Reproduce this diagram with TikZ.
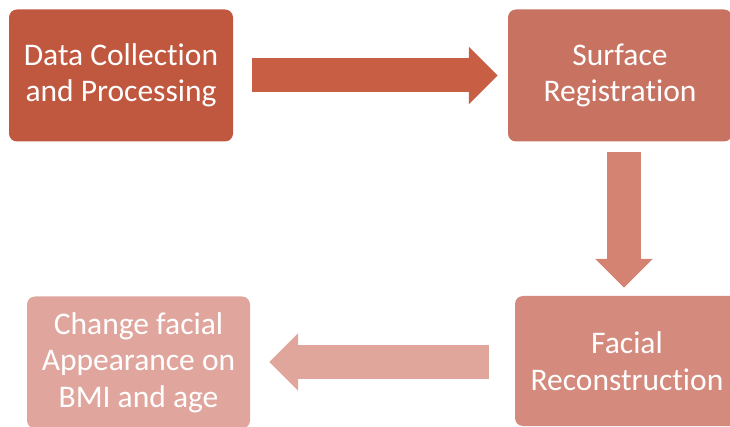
\documentclass[tikz,border=0pt]{standalone}
\usepackage{fontspec}
\setmainfont{Carlito}[Ligatures=NoCommon]
\usetikzlibrary{calc,arrows.meta}

\definecolor{stepA}{HTML}{C0583F}
\definecolor{arrA}{HTML}{C85F45}
\definecolor{stepB}{HTML}{C87362}
\definecolor{arrB}{HTML}{D48373}
\definecolor{stepC}{HTML}{D48A7C}
\definecolor{arrC}{HTML}{E0A69C}
\definecolor{stepD}{HTML}{E0A69E}

\tikzset{
  stepbox/.style={rounded corners=8pt, text=white, align=center,
    minimum width=224pt, minimum height=132pt, inner sep=0pt,
    font=\fontsize{31.5}{36.5}\selectfont},
  blockarrow/.style={line width=34pt,
    -{Triangle[length=29pt,width=56pt]}}
}

\begin{document}
\begin{tikzpicture}[x=1pt, y=-1pt]
  \useasboundingbox (0,0) rectangle (730,427);
  \clip (0,0) rectangle (730,427);

  % Kasten
  \node[stepbox, fill=stepA] (dc) at (121,75.5) {Data Collection\\and Processing};
  \node[stepbox, fill=stepB] (sr) at (620,75.5) {Surface\\Registration};
  \node[stepbox, fill=stepC, minimum height=130pt] (fr) at (627,361) {Facial\\Reconstruction};
  \node[stepbox, fill=stepD, minimum width=223pt] (cf) at (138.5,362.5) {Change facial\\Appearance on\\BMI and age};

  % Pfeile
  \draw[blockarrow, arrA] ($(dc.east)+(19,0)$) -- ($(sr.west)+(-10,0)$);
  \draw[blockarrow, arrB] ($(sr.south)+(4,10)$) -- ($(fr.north)+(-3,-8)$);
  \draw[blockarrow, arrC] ($(fr.west)+(-26,1)$) -- ($(cf.east)+(19,-0.5)$);
\end{tikzpicture}
\end{document}
